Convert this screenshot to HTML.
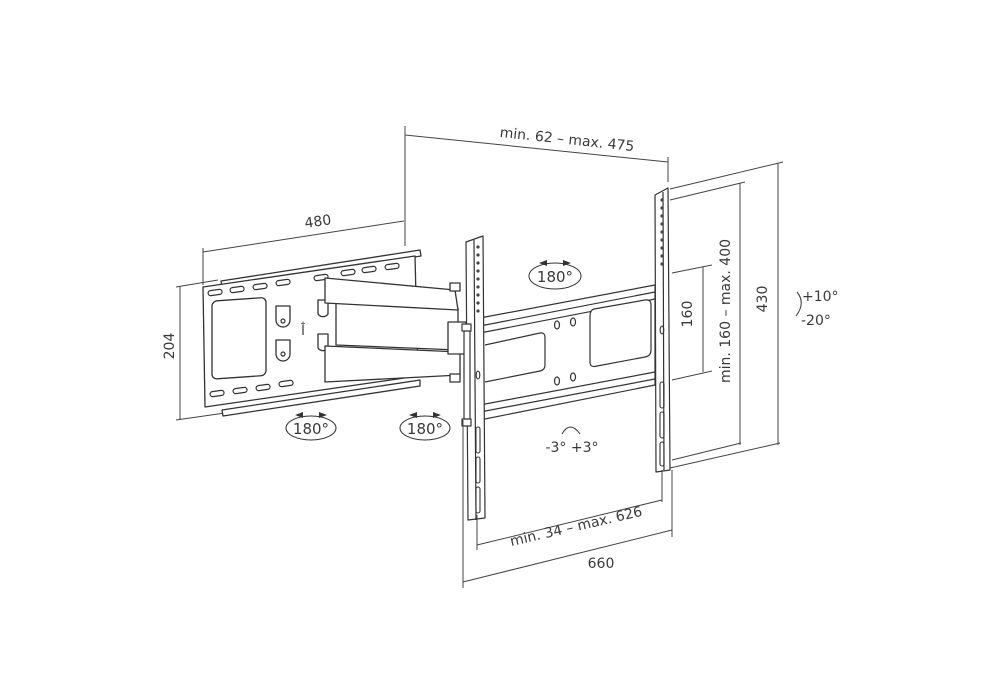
<!DOCTYPE html>
<html><head><meta charset="utf-8"><style>
html,body{margin:0;padding:0;background:#fff;width:1000px;height:700px;overflow:hidden}
svg{display:block}
text{font-family:"DejaVu Sans","Liberation Sans",sans-serif;fill:#3a3a3a}
</style></head><body>
<svg width="1000" height="700" viewBox="0 0 1000 700" xmlns="http://www.w3.org/2000/svg">
<g fill="none" stroke="#444" stroke-width="1">
<line x1="405" y1="126" x2="405" y2="246"/>
<line x1="668" y1="157" x2="668" y2="182"/>
<line x1="405" y1="135" x2="668" y2="162"/>
<line x1="203" y1="248" x2="203" y2="285"/>
<line x1="203" y1="252" x2="404" y2="221"/>
<line x1="180" y1="286" x2="180" y2="420"/>
<line x1="176" y1="287" x2="218" y2="280"/>
<line x1="176" y1="420" x2="225" y2="413"/>
</g>
<text x="318" y="226" font-size="14" transform="rotate(-8 318 222)" text-anchor="middle">480</text>
<text x="567" y="144" font-size="14" transform="rotate(6 567 140)" text-anchor="middle">min. 62 – max. 475</text>
<text x="176" y="352" font-size="14" transform="rotate(-90 172 350)" text-anchor="middle">204</text>

<g fill="#fff" stroke="#333" stroke-width="1.3" stroke-linejoin="round">
<polygon points="221,281 420,250 421,256 222,287"/>
<polygon points="222,410 420,380 420,386 223,416"/>
<polygon points="203,287 415,256 418,376 205,407"/>
<rect x="212" y="300" width="54" height="78" rx="5" transform="skewY(-4) translate(0,16)"/>
<path d="M276,306 h14 v14 a7,7 0 0 1 -14,0z"/>
<path d="M276,340 h14 v14 a7,7 0 0 1 -14,0z"/>
<path d="M318,300 h10 v14 a6,6 0 0 1 -10,0z"/>
<path d="M318,334 h10 v14 a6,6 0 0 1 -10,0z"/>
</g>
<g fill="none" stroke="#333" stroke-width="1.2">
<rect x="208" y="290" width="14" height="5" rx="2.5" transform="rotate(-8 215 292)"/>
<rect x="230" y="287" width="14" height="5" rx="2.5" transform="rotate(-8 237 289)"/>
<rect x="253" y="284" width="14" height="5" rx="2.5" transform="rotate(-8 260 286)"/>
<rect x="276" y="280" width="14" height="5" rx="2.5" transform="rotate(-8 283 282)"/>
<rect x="314" y="275" width="14" height="5" rx="2.5" transform="rotate(-8 321 277)"/>
<rect x="341" y="270" width="14" height="5" rx="2.5" transform="rotate(-8 348 272)"/>
<rect x="362" y="267" width="14" height="5" rx="2.5" transform="rotate(-8 369 269)"/>
<rect x="385" y="264" width="14" height="5" rx="2.5" transform="rotate(-8 392 266)"/>
<rect x="210" y="391" width="14" height="5" rx="2.5" transform="rotate(-8 217 393)"/>
<rect x="233" y="388" width="14" height="5" rx="2.5" transform="rotate(-8 240 390)"/>
<rect x="256" y="385" width="14" height="5" rx="2.5" transform="rotate(-8 263 387)"/>
<rect x="279" y="381" width="14" height="5" rx="2.5" transform="rotate(-8 286 383)"/>
<circle cx="283" cy="321" r="2"/><circle cx="283" cy="354" r="2"/>
<line x1="303" y1="325" x2="303" y2="335"/>
</g>
<text x="303" y="328" font-size="9" text-anchor="middle">†</text>

<g fill="#fff" stroke="#333" stroke-width="1.3" stroke-linejoin="round">
<polygon points="336,302 458,308 458,350 336,345"/>
<polygon points="325,278 455,290 458,310 325,303"/>
<polygon points="325,346 460,352 460,375 325,382"/>
<rect x="448" y="322" width="18" height="32"/>
<rect x="450" y="283" width="10" height="8"/>
<rect x="450" y="374" width="10" height="8"/>
</g>

<g fill="#fff" stroke="#333" stroke-width="1.2" stroke-linejoin="round">
<polygon points="480,318 655,285 655,385 480,420"/>
<line x1="480" y1="326" x2="655" y2="292"/>
<line x1="480" y1="333" x2="655" y2="299"/>
<line x1="480" y1="405" x2="655" y2="372"/>
<line x1="480" y1="412" x2="655" y2="379"/>
<path d="M485,345 L540,333 Q545,332 545,338 L545,365 Q545,370 540,371 L485,382"/>
<path d="M594,309 L645,300 Q651,299 651,305 L651,350 Q651,356 645,357 L597,366 Q590,368 590,362 L590,316 Q590,310 594,309z"/>
<ellipse cx="557" cy="325" rx="2.5" ry="4"/><ellipse cx="573" cy="322" rx="2.5" ry="4"/>
<ellipse cx="557" cy="381" rx="2.5" ry="4"/><ellipse cx="573" cy="377" rx="2.5" ry="4"/>
</g>

<g fill="#fff" stroke="#333" stroke-width="1.2" stroke-linejoin="round">
<polygon points="466,242 483,236 485,518 468,520"/>
<line x1="474" y1="240" x2="476" y2="520"/>
<rect x="464" y="328" width="6" height="96"/>
<rect x="462" y="324" width="9" height="7"/><rect x="462" y="419" width="9" height="7"/>
<polygon points="655,195 668,188 670,470 656,472"/>
<line x1="663" y1="192" x2="664" y2="470"/>
</g>
<g fill="#444">
<circle cx="478" cy="247" r="1.6"/><circle cx="478" cy="255" r="1.6"/><circle cx="478" cy="263" r="1.6"/><circle cx="478" cy="271" r="1.6"/><circle cx="478" cy="279" r="1.6"/><circle cx="478" cy="287" r="1.6"/><circle cx="478" cy="295" r="1.6"/><circle cx="478" cy="303" r="1.6"/><circle cx="478" cy="311" r="1.6"/>
<circle cx="662" cy="200" r="1.6"/><circle cx="662" cy="208" r="1.6"/><circle cx="662" cy="216" r="1.6"/><circle cx="662" cy="224" r="1.6"/><circle cx="662" cy="232" r="1.6"/><circle cx="662" cy="240" r="1.6"/><circle cx="662" cy="248" r="1.6"/><circle cx="662" cy="256" r="1.6"/><circle cx="662" cy="264" r="1.6"/>
</g>
<g fill="none" stroke="#333" stroke-width="1.1">
<ellipse cx="478" cy="375" rx="1.8" ry="4"/>
<rect x="476" y="427" width="4" height="26" rx="2"/><rect x="476" y="457" width="4" height="26" rx="2"/><rect x="476" y="487" width="4" height="26" rx="2"/>
<ellipse cx="662" cy="330" rx="1.8" ry="4"/>
<rect x="660" y="382" width="4" height="26" rx="2"/><rect x="660" y="412" width="4" height="26" rx="2"/><rect x="660" y="442" width="4" height="24" rx="2"/>
</g>

<g fill="none" stroke="#333" stroke-width="1">
<ellipse cx="311" cy="428" rx="25" ry="12"/>
<ellipse cx="425" cy="428" rx="25" ry="12"/>
<ellipse cx="555" cy="276" rx="26" ry="13"/>
<path d="M562,434 Q570,420 580,434"/>
<path d="M797,292 Q806,303 796,316"/>
</g>
<g fill="#333">
<polygon points="295,415 303,412 303,418"/><polygon points="327,415 319,412 319,418"/>
<polygon points="409,415 417,412 417,418"/><polygon points="441,415 433,412 433,418"/>
<polygon points="539,263 547,260 547,266"/><polygon points="571,263 563,260 563,266"/>
</g>
<text x="311" y="434" font-size="15" text-anchor="middle">180°</text>
<text x="425" y="434" font-size="15" text-anchor="middle">180°</text>
<text x="555" y="282" font-size="15" text-anchor="middle">180°</text>
<text x="572" y="452" font-size="14" text-anchor="middle">-3°  +3°</text>
<text x="802" y="301" font-size="14">+10°</text>
<text x="801" y="325" font-size="14">-20°</text>

<g fill="none" stroke="#444" stroke-width="1">
<line x1="672" y1="273" x2="712" y2="265"/>
<line x1="672" y1="380" x2="712" y2="371"/>
<line x1="703" y1="267" x2="703" y2="372"/>
<line x1="670" y1="200" x2="745" y2="182"/>
<line x1="672" y1="460" x2="741" y2="443"/>
<line x1="740" y1="183" x2="740" y2="445"/>
<line x1="670" y1="189" x2="783" y2="162"/>
<line x1="670" y1="468" x2="780" y2="443"/>
<line x1="778" y1="163" x2="778" y2="445"/>
</g>
<text x="696" y="318" font-size="14" transform="rotate(-90 692 318)" text-anchor="middle">160</text>
<text x="734" y="315" font-size="14" transform="rotate(-90 730 315)" text-anchor="middle">min. 160 – max. 400</text>
<text x="771" y="303" font-size="14" transform="rotate(-90 767 303)" text-anchor="middle">430</text>

<g fill="none" stroke="#444" stroke-width="1">
<line x1="463" y1="420" x2="463" y2="588"/>
<line x1="477" y1="515" x2="477" y2="550"/>
<line x1="662" y1="470" x2="662" y2="502"/>
<line x1="672" y1="470" x2="672" y2="537"/>
<line x1="477" y1="545" x2="662" y2="500"/>
<line x1="463" y1="582" x2="672" y2="530"/>
</g>
<text x="576" y="531" font-size="14" transform="rotate(-13 576 526)" text-anchor="middle">min. 34 – max. 626</text>
<text x="601" y="568" font-size="14" text-anchor="middle">660</text>
</svg>
</body></html>
